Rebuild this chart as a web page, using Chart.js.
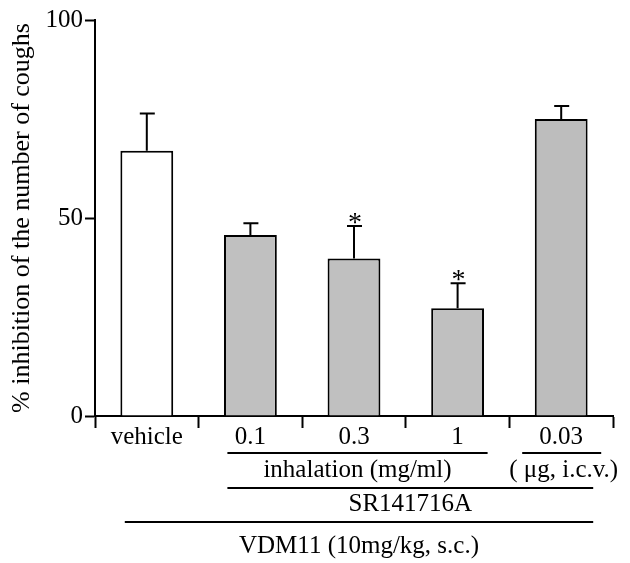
<!DOCTYPE html>
<html>
<head>
<meta charset="utf-8">
<script src="https://cdn.jsdelivr.net/npm/chart.js@4.4.1/dist/chart.umd.min.js"></script>
<style>
  html, body { margin: 0; padding: 0; background: #fff; }
  #wrap { width: 630px; height: 563px; }
</style>
</head>
<body>
<div id="wrap"><canvas id="coughChart" width="630" height="563"></canvas></div>
<script>
// dados
const categories = ['vehicle', '0.1', '0.3', '1', '0.03'];
const meanValues = [67.0, 45.7, 39.8, 27.2, 75.0];
const semValues = [9.4, 3.0, 8.2, 6.3, 3.3];
const significant = [false, false, true, true, false];
const yTicks = [0, 50, 100];

// grupos embaixo do eixo x (índices das categorias)
const groupLabels = ['inhalation (mg/ml)', '( \u03bcg, i.c.v.)', 'SR141716A', 'VDM11 (10mg/kg, s.c.)'];
const groupFrom = [1, 4, 1, 0];
const groupTo = [3, 4, 4, 4];
const groupRow = [0, 0, 1, 2];

const serif = "'Liberation Serif', 'Times New Roman', serif";
Chart.defaults.font.family = serif;
Chart.defaults.color = '#000';

// barras de erro e asteriscos
const errorBarsPlugin = {
    id: 'errorBars',
    afterDatasetsDraw(chart) {
        const ctx = chart.ctx;
        const xScale = chart.scales.x;
        const yScale = chart.scales.y;
        ctx.save();
        ctx.strokeStyle = '#000';
        ctx.lineWidth = 2;
        meanValues.forEach((v, i) => {
            const x = xScale.getPixelForValue(i);
            const yTop = yScale.getPixelForValue(v);
            const yErr = yScale.getPixelForValue(v + semValues[i]);
            ctx.beginPath();
            ctx.moveTo(x, yTop);
            ctx.lineTo(x, yErr);
            ctx.moveTo(x - 7, yErr);
            ctx.lineTo(x + 8, yErr);
            ctx.stroke();
            if (significant[i]) {
                ctx.fillStyle = '#000';
                ctx.font = '28px ' + serif;
                ctx.textAlign = 'center';
                ctx.textBaseline = 'alphabetic';
                ctx.fillText('*', x + 1, yErr + 5);
            }
        });
        ctx.restore();
    }
};

// linhas e textos dos grupos
const groupsPlugin = {
    id: 'groups',
    afterDraw(chart) {
        const ctx = chart.ctx;
        const xScale = chart.scales.x;
        const rowLine = [453, 488, 522];
        const rowText = [477, 511, 553];
        ctx.save();
        ctx.strokeStyle = '#000';
        ctx.lineWidth = 2;
        ctx.fillStyle = '#000';
        ctx.font = '25px ' + serif;
        ctx.textAlign = 'center';
        ctx.textBaseline = 'alphabetic';
        groupLabels.forEach((label, g) => {
            const single = groupFrom[g] === groupTo[g];
            const r = groupRow[g];
            const x0 = xScale.getPixelForValue(groupFrom[g]) - (single ? 39 : (r === 2 ? 22 : 23));
            const x1 = xScale.getPixelForValue(groupTo[g]) + (single ? 40 : (r === 0 ? 30 : 32));
            ctx.beginPath();
            ctx.moveTo(x0, rowLine[r]);
            ctx.lineTo(x1, rowLine[r]);
            ctx.stroke();
            ctx.fillText(label, (x0 + x1) / 2 + (single ? 2 : 0), rowText[r]);
        });
        ctx.restore();
    }
};

new Chart(document.getElementById('coughChart'), {
    type: 'bar',
    data: {
        labels: categories,
        datasets: [{
            data: meanValues,
            backgroundColor: ['#ffffff', '#c0c0c0', '#c0c0c0', '#c0c0c0', '#bdbdbd'],
            borderColor: '#000',
            borderWidth: 2,
            borderSkipped: 'bottom',
            categoryPercentage: 1.0,
            barPercentage: 0.51
        }]
    },
    options: {
        responsive: false,
        animation: false,
        layout: { padding: { top: 20, right: 17, left: 0, bottom: 0 } },
        plugins: {
            legend: { display: false },
            tooltip: { enabled: false }
        },
        scales: {
            x: {
                offset: true,
                afterFit: (scale) => { scale.height = 147; },
                grid: {
                    offset: true,
                    drawOnChartArea: false,
                    tickLength: 12,
                    tickColor: '#000',
                    tickWidth: 2
                },
                border: { color: '#000', width: 2 },
                ticks: {
                    color: '#000',
                    font: { size: 25 },
                    padding: -6,
                    maxRotation: 0
                }
            },
            y: {
                min: 0,
                max: 100,
                afterFit: (scale) => { scale.width = 95; },
                afterBuildTicks: (scale) => { scale.ticks = yTicks.map(v => ({ value: v })); },
                grid: {
                    drawOnChartArea: false,
                    tickLength: 10,
                    tickColor: '#000',
                    tickWidth: 2
                },
                border: { color: '#000', width: 2 },
                ticks: {
                    color: '#000',
                    font: { size: 25 },
                    padding: 2
                },
                title: {
                    display: true,
                    text: '% inhibition of the number of coughs',
                    color: '#000',
                    font: { size: 26 },
                    padding: { top: 7, bottom: 0 }
                }
            }
        }
    },
    plugins: [errorBarsPlugin, groupsPlugin]
});
</script>
</body>
</html>
